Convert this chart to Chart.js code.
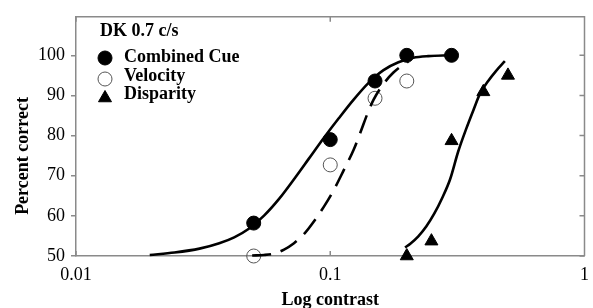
<!DOCTYPE html>
<html>
<head>
<meta charset="utf-8">
<script src="https://cdn.jsdelivr.net/npm/chart.js@4/dist/chart.umd.min.js"></script>
<style>
html, body { margin: 0; padding: 0; background: #fff; }
#caixa { width: 593px; height: 308px; }
</style>
</head>
<body>
<div id="caixa"><canvas id="grafico" width="593" height="308"></canvas></div>
<script>
// eixos
const xTicks = [0.01, 0.1, 1];
const xTickLabels = ['0.01', '0.1', '1'];
const yTicks = [50, 60, 70, 80, 90, 100];

// pontos medidos
const contrasteCombinado = [0.05, 0.1, 0.15, 0.2, 0.3];
const acertoCombinado = [58.2, 79, 93.6, 100, 100];
const contrasteVelocidade = [0.05, 0.1, 0.15, 0.2];
const acertoVelocidade = [50, 72.7, 89.3, 93.6];
const contrasteDisparidade = [0.2, 0.25, 0.3, 0.4, 0.5];
const acertoDisparidade = [50, 53.7, 78.7, 90.9, 95];

// curvas ajustadas
const curvaCombinadoX = [0.0195, 0.0244, 0.0306, 0.0366, 0.0419, 0.048, 0.0549, 0.0629, 0.072, 0.0824, 0.0943, 0.108, 0.1236, 0.1415, 0.162, 0.1854, 0.2122, 0.2429, 0.296];
const curvaCombinadoY = [50.25, 50.86, 51.84, 53.19, 54.66, 56.86, 60.05, 64.22, 69.12, 74.26, 79.41, 84.31, 88.97, 93.14, 96.32, 98.28, 99.39, 99.8, 100];
const curvaVelocidadeX = [0.0493, 0.0549, 0.0601, 0.0658, 0.072, 0.0787, 0.0862, 0.0943, 0.1032, 0.1129, 0.1236, 0.1316, 0.1402, 0.1481, 0.162, 0.1772, 0.194, 0.2028];
const curvaVelocidadeY = [50.12, 50.25, 50.61, 51.59, 53.19, 55.39, 58.58, 62.25, 66.42, 71.32, 76.47, 80.88, 85.54, 88.97, 92.89, 95.71, 97.67, 98.41];
const curvaDisparidadeX = [0.1969, 0.2065, 0.222, 0.2385, 0.2564, 0.2756, 0.2961, 0.3184, 0.3422, 0.3678, 0.3882, 0.4173, 0.4484, 0.4862];
const curvaDisparidadeY = [52.13, 53.06, 54.9, 57.35, 60.54, 64.46, 69.12, 75.98, 81.62, 86.76, 90.44, 93.55, 96.08, 98.53];

const tituloLegenda = 'DK 0.7 c/s';
const fonte = '"Liberation Serif", "Times New Roman", serif';
const cinza = '#8a8a8a';

function pares(xs, ys) {
    return xs.map((v, i) => ({ x: v, y: ys[i] }));
}

const moldura = {
    id: 'moldura',
    beforeDatasetsDraw(chart) {
        const { ctx, chartArea: a, scales: { x, y } } = chart;
        ctx.save();
        ctx.strokeStyle = cinza;
        ctx.lineWidth = 1.5;
        ctx.beginPath();
        ctx.moveTo(a.left, a.top);
        ctx.lineTo(a.right, a.top);
        ctx.lineTo(a.right, a.bottom);
        yTicks.forEach(v => {
            const py = y.getPixelForValue(v);
            ctx.moveTo(a.right, py);
            ctx.lineTo(a.right - 5, py);
        });
        xTicks.forEach(v => {
            const px = x.getPixelForValue(v);
            ctx.moveTo(px, a.top);
            ctx.lineTo(px, a.top + 5);
            ctx.moveTo(px, a.bottom);
            ctx.lineTo(px, a.bottom - 5);
        });
        ctx.stroke();

        // titulo do eixo y
        ctx.translate(23, 156);
        ctx.rotate(-Math.PI / 2);
        ctx.fillStyle = '#000';
        ctx.font = 'bold 18px ' + fonte;
        ctx.textAlign = 'center';
        ctx.textBaseline = 'middle';
        ctx.fillText('Percent correct', 0, 0);
        ctx.restore();
    },
    afterDraw(chart) {
        const ctx = chart.ctx;
        ctx.save();
        ctx.fillStyle = '#000';
        ctx.font = 'bold 18px ' + fonte;
        ctx.textBaseline = 'middle';
        ctx.textAlign = 'left';
        ctx.fillText(tituloLegenda, 100, 31);

        const linhas = [
            { ds: chart.data.datasets[3], sy: 58, ty: 57 },
            { ds: chart.data.datasets[4], sy: 79, ty: 76 },
            { ds: chart.data.datasets[5], sy: 98, ty: 94 }
        ];
        linhas.forEach(l => {
            ctx.fillStyle = l.ds.backgroundColor;
            ctx.strokeStyle = l.ds.borderColor;
            ctx.lineWidth = l.ds.borderWidth;
            Chart.helpers.drawPoint(ctx, {
                pointStyle: l.ds.pointStyle,
                radius: l.ds.pointRadius,
                rotation: 0,
                borderWidth: l.ds.borderWidth
            }, 105, l.sy);
            ctx.fillStyle = '#000';
            ctx.fillText(l.ds.label, 124, l.ty);
        });
        ctx.restore();
    }
};

new Chart(document.getElementById('grafico'), {
    type: 'scatter',
    data: {
        datasets: [
            {
                label: 'ajuste combinado',
                data: pares(curvaCombinadoX, curvaCombinadoY),
                showLine: true,
                borderColor: '#000',
                borderWidth: 2.6,
                pointRadius: 0,
                cubicInterpolationMode: 'monotone',
                clip: false
            },
            {
                label: 'ajuste velocidade',
                data: pares(curvaVelocidadeX, curvaVelocidadeY),
                showLine: true,
                borderColor: '#000',
                borderWidth: 2.6,
                borderDash: [19, 10],
                pointRadius: 0,
                cubicInterpolationMode: 'monotone',
                clip: false
            },
            {
                label: 'ajuste disparidade',
                data: pares(curvaDisparidadeX, curvaDisparidadeY),
                showLine: true,
                borderColor: '#000',
                borderWidth: 2.6,
                pointRadius: 0,
                cubicInterpolationMode: 'monotone',
                clip: false
            },
            {
                label: 'Combined Cue',
                data: pares(contrasteCombinado, acertoCombinado),
                pointStyle: 'circle',
                pointRadius: 7,
                backgroundColor: '#000',
                borderColor: '#000',
                borderWidth: 1,
                clip: false
            },
            {
                label: 'Velocity',
                data: pares(contrasteVelocidade, acertoVelocidade),
                pointStyle: 'circle',
                pointRadius: 7,
                backgroundColor: 'rgba(255,255,255,0)',
                borderColor: '#555',
                borderWidth: 1,
                clip: false
            },
            {
                label: 'Disparity',
                data: pares(contrasteDisparidade, acertoDisparidade),
                pointStyle: 'triangle',
                pointRadius: 7.5,
                backgroundColor: '#000',
                borderColor: '#000',
                borderWidth: 1,
                clip: false
            }
        ]
    },
    options: {
        responsive: false,
        animation: false,
        devicePixelRatio: 1,
        layout: { padding: { top: 13, right: 6, left: 0, bottom: 0 } },
        plugins: {
            legend: { display: false },
            tooltip: { enabled: false }
        },
        scales: {
            x: {
                type: 'logarithmic',
                min: 0.01,
                max: 1,
                afterBuildTicks: s => { s.ticks = xTicks.map(v => ({ value: v })); },
                afterFit: s => { s.height = 52; },
                grid: { display: false },
                border: { display: true, color: cinza, width: 1.5 },
                ticks: {
                    padding: 0,
                    maxRotation: 0,
                    color: '#000',
                    font: { family: fonte, size: 18 },
                    callback: (v, i) => xTickLabels[i]
                },
                title: {
                    display: true,
                    text: 'Log contrast',
                    color: '#000',
                    padding: { top: 0, bottom: -3 },
                    font: { family: fonte, size: 18, weight: 'bold' }
                }
            },
            y: {
                min: 50,
                max: 109.6,
                afterBuildTicks: s => { s.ticks = yTicks.map(v => ({ value: v })); },
                afterFit: s => { s.width = 76; },
                grid: {
                    drawOnChartArea: false,
                    drawTicks: true,
                    tickLength: 5,
                    color: cinza,
                    lineWidth: 1.5
                },
                border: { display: true, color: cinza, width: 1.5 },
                ticks: {
                    padding: 6,
                    color: '#000',
                    font: { family: fonte, size: 18 }
                }
            }
        }
    },
    plugins: [moldura]
});
</script>
</body>
</html>
